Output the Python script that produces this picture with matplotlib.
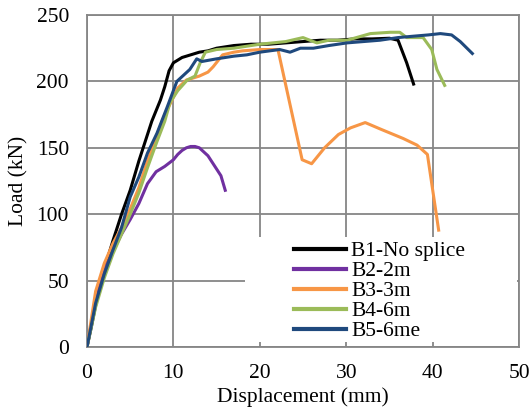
import matplotlib
matplotlib.use("Agg")
import matplotlib.pyplot as plt
from matplotlib.patches import Rectangle

# load-displacement data
b1_x = [0, 0.5, 1.5, 3, 4, 5, 6, 7, 7.5, 8, 8.5, 9, 9.5, 10, 11, 12, 13, 14, 15, 17,
        19, 21, 23, 25, 27, 29, 31, 33, 35, 36, 37, 37.8]
b1_y = [0, 15, 48, 80, 100, 118, 140, 160, 170, 178, 186, 196, 208, 214, 218, 220, 222,
        223, 225, 227, 228, 228, 229, 230, 231, 231, 232, 232, 232.5, 231, 214, 198]

b2_x = [0, 1, 2, 3, 4, 5, 6, 7, 8, 9, 10, 10.5, 11, 11.5, 12, 12.5, 13, 13.5, 14, 14.5,
        15, 15.5, 16]
b2_y = [0, 35, 58, 72, 85, 96, 108, 123, 132, 136, 141, 145, 148, 150, 151, 151, 150,
        147, 144, 139, 134, 129, 118]

b3_x = [0, 1, 2, 3, 4, 5, 6, 7, 8, 9, 10, 10.5, 11.5, 13, 14, 14.6, 15.7, 17, 18, 20,
        22.1, 24.9, 26.0, 27.5, 29.1, 30.5, 32.2, 34, 36.6, 38.2, 39.4, 40.7]
b3_y = [0, 42, 63, 78, 90, 104, 120, 140, 158, 175, 188, 195, 201, 204, 207, 211, 220,
        222, 223, 224, 224, 141, 138, 150, 160, 165, 169, 164, 157, 152, 145, 88]

b4_x = [0, 1, 2, 3, 4, 5, 6, 7, 8, 9, 9.6, 10.5, 11.6, 12.5, 13.1, 13.7, 15, 17, 20,
        23, 25, 26.6, 28, 30.1, 32.8, 35.1, 36.2, 37, 38.9, 39.9, 40.5, 41.4]
b4_y = [0, 30, 52, 70, 85, 100, 116, 135, 153, 170, 184, 193, 201, 204, 214, 222, 224,
        225, 228, 230, 233, 229, 231, 231, 236, 237, 237, 233, 233, 224, 209, 197]

b5_x = [0, 1, 2, 3, 4, 5, 6, 7, 8.1, 9.3, 10.4, 11.9, 12.7, 13.3, 15, 17, 18.5, 20,
        22.3, 23.5, 24.7, 26.2, 28, 30.1, 32, 33.9, 36, 37.7, 39.5, 40.9, 42.2, 43.2, 44.6]
b5_y = [0, 33, 55, 73, 90, 113, 128, 146, 161, 181, 200, 209, 217, 215, 217, 219, 220,
        222, 224, 222, 225, 225, 227, 229, 230, 231, 233, 234, 235, 236, 235, 230, 221]

labels = ["B1-No splice", "B2-2m", "B3-3m", "B4-6m", "B5-6me"]
colors = ["#000000", "#7030A0", "#F79646", "#9BBB59", "#1F497D"]

plt.rcParams['font.family'] = ['Liberation Serif', 'DejaVu Serif']
fs = 15.5

fig = plt.figure(figsize=(5.31, 4.07), dpi=100)
ax = fig.add_axes([87 / 531, 1 - 347 / 407, 432 / 531, 332 / 407])

series = [(b1_x, b1_y), (b2_x, b2_y), (b3_x, b3_y), (b4_x, b4_y), (b5_x, b5_y)]
for (xs, ys), lab, col in zip(series, labels, colors):
    ax.plot(xs, ys, color=col, lw=2.2, label=lab, solid_joinstyle='round', zorder=3)

ax.set_xlim(0, 50)
ax.set_ylim(0, 250)
ax.set_xticks(range(0, 51, 10))
ax.set_yticks(range(0, 251, 50))
ax.grid(True, color='#868686', lw=1.3)
ax.set_axisbelow(True)
for s in ax.spines.values():
    s.set_color('#868686')
    s.set_linewidth(1.3)
ax.tick_params(length=0, labelsize=fs)
ax.tick_params(axis='x', pad=12)
ax.tick_params(axis='y', pad=13)

ax.set_xlabel("Displacement (mm)", fontsize=fs, labelpad=3)
ax.set_ylabel("Load (kN)", fontsize=fs, labelpad=6)

# white legend area as in the spreadsheet chart
ax.add_patch(Rectangle(((245 - 87) / 432, 5 / 332), (517 - 245) / 432, 105 / 332,
                       transform=ax.transAxes, facecolor='white', edgecolor='none',
                       zorder=1))

leg = ax.legend(loc='upper left', bbox_to_anchor=((294 - 87) / 432, (347 - 241) / 332),
                frameon=False, fontsize=fs, handlelength=2.4, borderpad=0,
                borderaxespad=0, labelspacing=0.0, handletextpad=0.25)
for h in leg.get_lines():
    h.set_linewidth(3)

fig.savefig("out.png", dpi=100)
